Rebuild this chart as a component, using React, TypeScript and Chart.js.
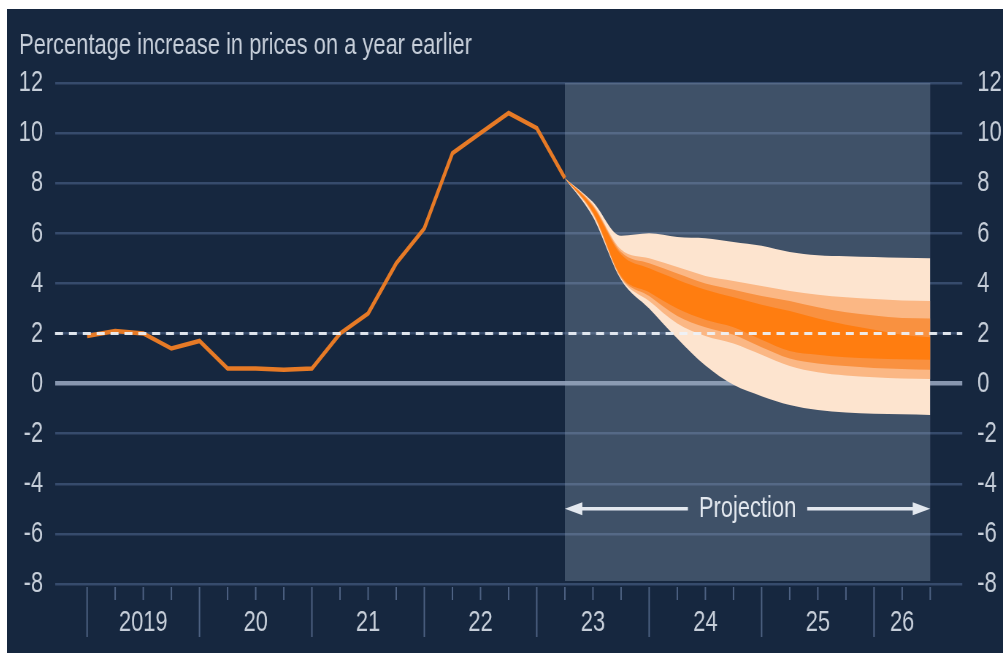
import React, { useEffect, useRef } from 'react';
import { Chart, registerables } from 'chart.js';

Chart.register(...registerables);

// ---------- data ----------
const TITLE = 'Percentage increase in prices on a year earlier';
const PROJECTION_LABEL = 'Projection';

// quarter index: 0 = 2019 Q1
const actualQuarters = [0, 1, 2, 3, 4, 5, 6, 7, 8, 9, 10, 11, 12, 13, 14, 15, 16, 17];
const actualValues = [1.9, 2.1, 2.0, 1.4, 1.7, 0.6, 0.6, 0.55, 0.6, 2.0, 2.8, 4.8, 6.2, 9.2, 10.0, 10.8, 10.2, 8.2];

const fanQuarters = [17, 18, 19, 20, 21, 22, 23, 24, 25, 26, 27, 28, 29, 30];
const fanOuterUp = [8.2, 7.25, 5.9, 6.0, 5.85, 5.8, 5.65, 5.5, 5.25, 5.12, 5.08, 5.05, 5.02, 5.0];
const fanLightUp = [8.2, 7.15, 5.35, 5.0, 4.65, 4.3, 4.1, 3.9, 3.7, 3.55, 3.45, 3.38, 3.32, 3.3];
const fanMidUp = [8.2, 7.1, 5.25, 4.8, 4.4, 4.0, 3.75, 3.5, 3.3, 3.05, 2.85, 2.72, 2.62, 2.6];
const fanCenterUp = [8.2, 7.05, 5.15, 4.6, 4.15, 3.75, 3.45, 3.15, 2.9, 2.6, 2.35, 2.15, 1.95, 1.85];
const fanCenterLo = [8.2, 6.85, 4.3, 3.65, 3.0, 2.55, 2.25, 1.75, 1.3, 1.15, 1.05, 1.0, 0.97, 0.95];
const fanMidLo = [8.2, 6.8, 4.25, 3.5, 2.7, 2.25, 1.95, 1.45, 1.0, 0.8, 0.7, 0.62, 0.58, 0.55];
const fanLightLo = [8.2, 6.75, 4.2, 3.3, 2.4, 1.9, 1.6, 1.15, 0.7, 0.45, 0.32, 0.25, 0.2, 0.18];
const fanOuterLo = [8.2, 6.65, 4.15, 3.0, 1.8, 0.72, -0.05, -0.5, -0.85, -1.05, -1.15, -1.2, -1.22, -1.25];

const yearLabels = ['2019', '20', '21', '22', '23', '24', '25', '26'];
const yearLabelPos = [2, 6, 10, 14, 18, 22, 26, 29];
const quarterTicks = [0, 1, 2, 3, 4, 5, 6, 7, 8, 9, 10, 11, 12, 13, 14, 15, 16, 17, 18, 19, 20, 21, 22, 23, 24, 25, 26, 27, 28, 29, 30];

const X_MIN = -1.14;
const X_MAX = 31.14;
const Y_MIN = -8;
const Y_MAX = 12;
const Y_STEP = 2;
const TARGET = 2;
const PROJ_START = 17;
const PROJ_END = 30;
const PROJ_LABEL_Y = -5;

// ---------- styling ----------
const SQUEEZE = 0.73; // horizontal condensation of the whole drawing
const CSS_W = 996;
const CSS_H = 644;
const W = Math.round(CSS_W / SQUEEZE);
const H = CSS_H;
const FONT = '"Liberation Sans", Arial, Helvetica, sans-serif';
const FONT_SIZE = 30;
const BG = '#16273f';
const LABEL = '#c6ced9';
const GRID = '#364b6c';
const ZERO = '#8796af';
const TICK = '#4e6283';
const ORANGE = '#e67a26';
const C_OUTER = '#fde4cf';
const C_LIGHT = '#fbb784';
const C_MID = '#f99140';
const C_CENTER = '#ff7d10';

const pts = (xs: number[], ys: number[]) => xs.map((x, i) => ({ x, y: ys[i] }));

const decor = {
  id: 'decor',
  beforeDatasetsDraw(chart: any) {
    const { ctx, scales } = chart;
    const x = scales.x;
    const y = scales.y;
    const x0 = x.getPixelForValue(PROJ_START);
    const x1 = x.getPixelForValue(PROJ_END);
    const yt = y.getPixelForValue(Y_MAX);
    const yb = y.getPixelForValue(Y_MIN) - 3;
    ctx.save();
    ctx.fillStyle = 'rgba(150,166,188,0.33)';
    ctx.fillRect(x0, yt, x1 - x0, yb - yt);
    ctx.restore();
  },
  afterDatasetsDraw(chart: any) {
    const { ctx, chartArea, scales } = chart;
    const x = scales.x;
    const y = scales.y;
    ctx.save();
    // 2% target dashed line
    const yT = y.getPixelForValue(TARGET);
    ctx.strokeStyle = 'rgba(238,242,248,0.92)';
    ctx.lineWidth = 3;
    ctx.setLineDash([11, 8]);
    ctx.beginPath();
    ctx.moveTo(chartArea.left, yT);
    ctx.lineTo(chartArea.right, yT);
    ctx.stroke();
    ctx.setLineDash([]);

    // projection arrow + label
    const yA = y.getPixelForValue(PROJ_LABEL_Y);
    const xa = x.getPixelForValue(PROJ_START);
    const xb = x.getPixelForValue(PROJ_END);
    const xm = (xa + xb) / 2;
    ctx.font = `${FONT_SIZE}px ${FONT}`;
    const tw = ctx.measureText(PROJECTION_LABEL).width;
    const gap = 15;
    const head = 24;
    ctx.strokeStyle = '#e3e8ef';
    ctx.fillStyle = '#e3e8ef';
    ctx.lineWidth = 3.5;
    ctx.beginPath();
    ctx.moveTo(xa + 20, yA);
    ctx.lineTo(xm - tw / 2 - gap, yA);
    ctx.moveTo(xm + tw / 2 + gap, yA);
    ctx.lineTo(xb - 20, yA);
    ctx.stroke();
    ctx.beginPath();
    ctx.moveTo(xa, yA);
    ctx.lineTo(xa + head, yA - 6.5);
    ctx.lineTo(xa + head, yA + 6.5);
    ctx.closePath();
    ctx.fill();
    ctx.beginPath();
    ctx.moveTo(xb, yA);
    ctx.lineTo(xb - head, yA - 6.5);
    ctx.lineTo(xb - head, yA + 6.5);
    ctx.closePath();
    ctx.fill();
    ctx.textAlign = 'center';
    ctx.textBaseline = 'middle';
    ctx.fillText(PROJECTION_LABEL, xm, yA);
    ctx.restore();
  },
  afterDraw(chart: any) {
    const { ctx, chartArea, scales } = chart;
    const x = scales.x;
    ctx.save();
    ctx.strokeStyle = TICK;
    ctx.lineWidth = 2;
    for (const q of quarterTicks) {
      const px = x.getPixelForValue(q);
      const long = q % 4 === 0;
      ctx.beginPath();
      ctx.moveTo(px, chartArea.bottom + 3);
      ctx.lineTo(px, chartArea.bottom + (long ? 53 : 16));
      ctx.stroke();
    }
    ctx.fillStyle = LABEL;
    ctx.font = `${FONT_SIZE}px ${FONT}`;
    ctx.textAlign = 'left';
    ctx.textBaseline = 'alphabetic';
    ctx.fillText(TITLE, 12 / SQUEEZE, 45);
    ctx.restore();
  },
};

export default function App() {
  const ref = useRef<HTMLCanvasElement | null>(null);

  useEffect(() => {
    if (!ref.current) return;
    const band = (up: number[], color: string) => ({
      data: pts(fanQuarters, up),
      borderWidth: 0,
      borderColor: 'transparent',
      backgroundColor: color,
      pointRadius: 0,
      fill: '+1',
      cubicInterpolationMode: 'monotone' as const,
    });
    const edge = (lo: number[]) => ({
      data: pts(fanQuarters, lo),
      borderWidth: 0,
      borderColor: 'transparent',
      pointRadius: 0,
      fill: false,
      cubicInterpolationMode: 'monotone' as const,
    });
    const tickFont = { size: FONT_SIZE, family: FONT };
    const chart = new Chart(ref.current, {
      type: 'line',
      data: {
        datasets: [
          {
            data: pts(actualQuarters, actualValues),
            borderColor: ORANGE,
            borderWidth: 4.5,
            pointRadius: 0,
            fill: false,
            tension: 0,
          },
          band(fanCenterUp, C_CENTER),
          edge(fanCenterLo),
          band(fanMidUp, C_MID),
          edge(fanMidLo),
          band(fanLightUp, C_LIGHT),
          edge(fanLightLo),
          band(fanOuterUp, C_OUTER),
          edge(fanOuterLo),
        ] as any,
      },
      options: {
        responsive: false,
        animation: false,
        devicePixelRatio: 1,
        layout: { padding: { top: 74, left: 0, right: 0, bottom: 0 } },
        plugins: {
          legend: { display: false },
          tooltip: { enabled: false },
          title: { display: false },
        },
        scales: {
          x: {
            type: 'linear',
            position: 'bottom',
            min: X_MIN,
            max: X_MAX,
            afterBuildTicks: (s: any) => {
              s.ticks = yearLabelPos.map((v) => ({ value: v }));
            },
            afterFit: (s: any) => {
              s.height = 69;
            },
            ticks: {
              autoSkip: false,
              maxRotation: 0,
              padding: 21,
              color: LABEL,
              font: tickFont,
              callback: (_v: any, i: number) => yearLabels[i],
            },
            grid: { display: false, drawTicks: false },
            border: { display: false },
          },
          y: {
            position: 'left',
            min: Y_MIN,
            max: Y_MAX,
            afterFit: (s: any) => {
              s.width = 48 / SQUEEZE;
            },
            ticks: { stepSize: Y_STEP, padding: 12 / SQUEEZE, color: LABEL, font: tickFont },
            grid: {
              drawTicks: false,
              color: (c: any) => (c.tick && c.tick.value === 0 ? ZERO : GRID),
              lineWidth: (c: any) => (c.tick && c.tick.value === 0 ? 4.5 : 2.5),
            },
            border: { display: false },
          },
          y2: {
            position: 'right',
            min: Y_MIN,
            max: Y_MAX,
            afterFit: (s: any) => {
              s.width = W - 955 / SQUEEZE;
            },
            ticks: { stepSize: Y_STEP, padding: 15 / SQUEEZE, color: LABEL, font: tickFont },
            grid: { display: false, drawTicks: false },
            border: { display: false },
          },
        },
      } as any,
      plugins: [decor],
    });
    return () => chart.destroy();
  }, []);

  return (
    <div
      style={{
        position: 'fixed',
        left: 7,
        top: 9,
        width: CSS_W,
        height: CSS_H,
        background: BG,
      }}
    >
      <canvas
        ref={ref}
        width={W}
        height={H}
        style={{ width: `${CSS_W}px`, height: `${CSS_H}px`, display: 'block' }}
      />
    </div>
  );
}
